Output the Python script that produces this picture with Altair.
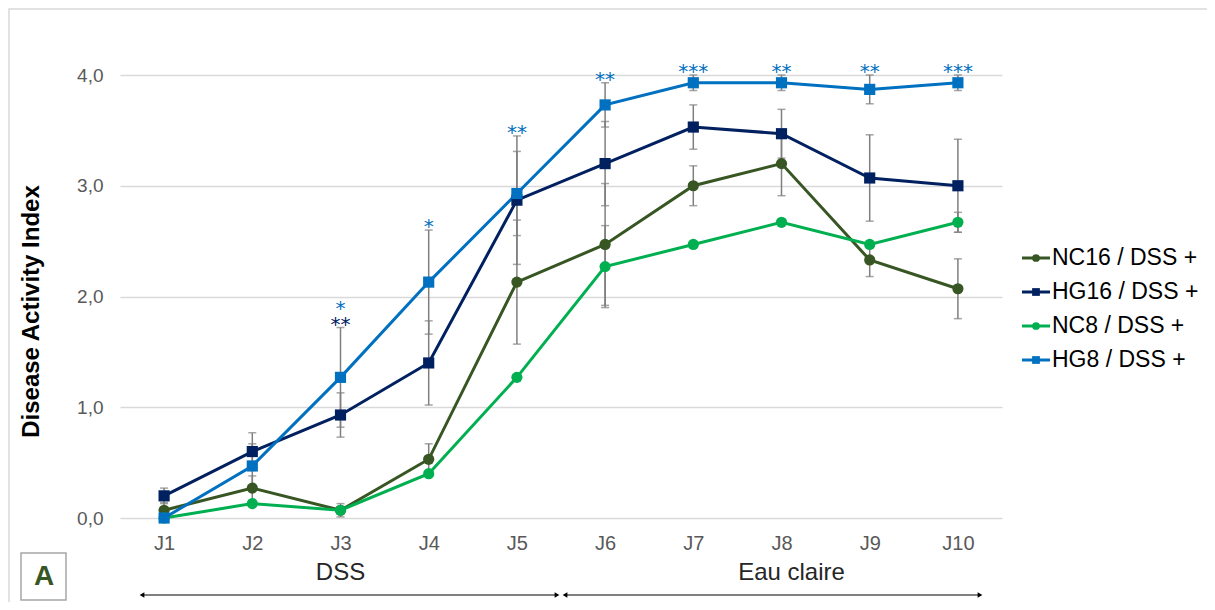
import altair as alt
import pandas as pd

# ---------------- data ----------------
days = ["J1", "J2", "J3", "J4", "J5", "J6", "J7", "J8", "J9", "J10"]
series_order = ["NC16 / DSS +", "HG16 / DSS +", "NC8 / DSS +", "HG8 / DSS +"]
series_colors = ["#375623", "#002060", "#00B050", "#0070C0"]
series_shapes = ["circle", "square", "circle", "square"]

nc16_mean = [0.07, 0.27, 0.07, 0.53, 2.13, 2.47, 3.00, 3.20, 2.33, 2.07]
nc16_err = [0.07, 0.11, 0.06, 0.14, 0.56, 0.55, 0.18, 0.29, 0.15, 0.27]
hg16_mean = [0.20, 0.60, 0.93, 1.40, 2.87, 3.20, 3.53, 3.47, 3.07, 3.00]
hg16_err = [0.07, 0.17, 0.20, 0.38, 0.58, 0.38, 0.20, 0.22, 0.39, 0.42]
nc8_mean = [0.00, 0.13, 0.07, 0.40, 1.27, 2.27, 2.47, 2.67, 2.47, 2.67]
nc8_err = [0.00, 0.00, 0.00, 0.00, 0.00, 0.37, 0.00, 0.00, 0.00, 0.09]
hg8_mean = [0.00, 0.47, 1.27, 2.13, 2.93, 3.73, 3.93, 3.93, 3.87, 3.93]
hg8_err = [0.00, 0.20, 0.45, 0.47, 0.38, 0.20, 0.07, 0.07, 0.13, 0.07]

# significance stars: day, label, series, row (0 = just above bars)
star_days = ["J3", "J3", "J4", "J5", "J6", "J7", "J8", "J9", "J10"]
star_labels = ["**", "*", "*", "**", "**", "***", "**", "**", "***"]
star_series = ["HG16 / DSS +", "HG8 / DSS +", "HG8 / DSS +", "HG8 / DSS +", "HG8 / DSS +",
               "HG8 / DSS +", "HG8 / DSS +", "HG8 / DSS +", "HG8 / DSS +"]
star_rows = [0, 1, 0, 0, 0, 0, 0, 0, 0]

phase_labels = ["DSS", "Eau claire"]
phase_days = ["J3", "J8"]

# ---------------- tables ----------------
means = [nc16_mean, hg16_mean, nc8_mean, hg8_mean]
errs = [nc16_err, hg16_err, nc8_err, hg8_err]
rows = []
for s, m, e in zip(series_order, means, errs):
    for d, mv, ev in zip(days, m, e):
        rows.append({"day": d, "series": s, "mean": mv, "lo": mv - ev, "hi": mv + ev,
                     "has_err": ev > 0})
df = pd.DataFrame(rows)
df_err = df[df["has_err"]].copy()

top_by_day = df.groupby("day")["hi"].max()
stars_df = pd.DataFrame({"day": star_days, "label": star_labels,
                         "series": star_series, "row": star_rows})
stars_df["ypos"] = [float(min(top_by_day[d], 4.0)) for d in star_days]

phase_df = pd.DataFrame({"day": phase_days, "label": phase_labels})
legend_df = pd.DataFrame({"series": series_order})
one = pd.DataFrame({"k": [0]})

FONT = "Liberation Sans"

xenc = alt.X("day:N", sort=days,
             scale=alt.Scale(type="point", padding=0.5, domain=days),
             axis=alt.Axis(title=None, labelAngle=0, labelFontSize=20, labelColor="#595959",
                           labelPadding=15, domain=False, ticks=False, grid=False,
                           labelFont=FONT))
yscale = alt.Scale(domain=[0, 4], nice=False, zero=True)
yaxis = alt.Axis(values=[0, 1, 2, 3, 4], grid=True, gridColor="#d9d9d9", gridWidth=1.5,
                 domain=False, ticks=False, labelFontSize=19, labelColor="#595959",
                 labelPadding=17, labelFont=FONT,
                 labelExpr="replace(format(datum.value, '.1f'), '.', ',')",
                 title="Disease Activity Index", titleFontSize=24, titleFontWeight="bold",
                 titleColor="#000000", titleFont=FONT, titleX=-89, titleY=236,
                 titleAngle=-90, titleAlign="center", titleBaseline="middle")
color = alt.Color("series:N", scale=alt.Scale(domain=series_order, range=series_colors),
                  legend=None)
shape = alt.Shape("series:N", scale=alt.Scale(domain=series_order, range=series_shapes),
                  legend=None)

base = alt.Chart(df)
ebase = alt.Chart(df_err)
lines = base.mark_line(strokeWidth=3).encode(
    x=xenc, y=alt.Y("mean:Q", scale=yscale, axis=yaxis), color=color,
    order=alt.Order("day_idx:Q")
).transform_calculate(day_idx="indexof(%s, datum.day)" % str(days))
ebars = ebase.mark_rule(color="#7f7f7f", strokeWidth=1.5).encode(
    x=xenc, y=alt.Y("lo:Q", scale=yscale), y2="hi:Q")
ecap_lo = ebase.mark_tick(color="#7f7f7f", thickness=1.5, size=8, orient="horizontal").encode(
    x=xenc, y=alt.Y("lo:Q", scale=yscale))
ecap_hi = ebase.mark_tick(color="#7f7f7f", thickness=1.5, size=8, orient="horizontal").encode(
    x=xenc, y=alt.Y("hi:Q", scale=yscale))
points = base.mark_point(filled=True, opacity=1, size=125).encode(
    x=xenc, y=alt.Y("mean:Q", scale=yscale), color=color, shape=shape)

stars0 = alt.Chart(stars_df).transform_filter("datum.row == 0").mark_text(
    fontSize=20, font="DejaVu Sans", baseline="alphabetic", dy=3).encode(
    x=xenc, y=alt.Y("ypos:Q", scale=yscale), text="label:N", color=color)
stars1 = alt.Chart(stars_df).transform_filter("datum.row == 1").mark_text(
    fontSize=20, font="DejaVu Sans", baseline="alphabetic", dy=-13).encode(
    x=xenc, y=alt.Y("ypos:Q", scale=yscale), text="label:N", color=color)

phases = alt.Chart(phase_df).mark_text(fontSize=24, font=FONT, color="#262626",
                                       baseline="middle").encode(
    x=xenc, y=alt.value(498), text="label:N",
    xOffset=alt.XOffset("label:N", scale=alt.Scale(type="point", domain=phase_labels,
                                                   range=[0, 10], padding=0)))

# decorations: arrows, frame, panel letter
arrow_df = pd.DataFrame({"x1": [22, 445], "x2": [437, 860]})
arrows = alt.Chart(arrow_df).mark_rule(color="#000000", strokeWidth=1).encode(
    x=alt.X("x1:Q", scale=None), x2="x2:Q", y=alt.value(520))
head_df = pd.DataFrame({"px": [22, 437, 445, 860],
                        "shp": ["triangle-left", "triangle-right", "triangle-left", "triangle-right"]})
heads = alt.Chart(head_df).mark_point(filled=True, color="#000000", size=30, opacity=1).encode(
    x=alt.X("px:Q", scale=None), y=alt.value(520),
    shape=alt.Shape("shp:N", scale=None))
frame = alt.Chart(one).mark_rect(fill=None, stroke="#d9d9d9", strokeWidth=1.5).encode(
    x=alt.value(-111), x2=alt.value(1100), y=alt.value(-66), y2=alt.value(600))
abox = alt.Chart(one).mark_rect(fill="#ffffff", stroke="#a6a6a6", strokeWidth=1.5).encode(
    x=alt.value(-99), x2=alt.value(-54), y=alt.value(478), y2=alt.value(525))
aletter = alt.Chart(one).mark_text(text="A", fontSize=28, fontWeight="bold", font=FONT,
                                   color="#375623", baseline="middle").encode(
    x=alt.value(-76), y=alt.value(502))

main = alt.layer(lines, ebars, ecap_lo, ecap_hi, points, stars0, stars1, phases,
                 arrows, heads, frame, abox, aletter)

# legend (drawn manually: line + marker + label)
ly = alt.Y("series:N", sort=series_order,
           scale=alt.Scale(type="point", domain=series_order, range=[183, 285], padding=0),
           axis=None)
lbase = alt.Chart(legend_df)
leg_line = lbase.mark_rule(strokeWidth=3).encode(
    x=alt.value(902), x2=alt.value(930), y=ly, color=color)
leg_pt = lbase.mark_point(filled=True, opacity=1, size=60).encode(
    x=alt.value(916), y=ly, color=color, shape=shape)
leg_txt = lbase.mark_text(align="left", baseline="middle", fontSize=23, font=FONT,
                          color="#000000").encode(
    x=alt.value(932), y=ly, text="series:N")
legend = alt.layer(leg_line, leg_pt, leg_txt)

chart = alt.layer(main, legend).resolve_scale(y="independent").properties(
    width=882, height=443,
    padding={"left": 112, "top": 67, "right": 205, "bottom": 84},
    autosize=alt.AutoSizeParams(type="none"),
).configure_view(stroke=None)

chart.save("out.html", embed_options={"renderer": "svg", "actions": False})
